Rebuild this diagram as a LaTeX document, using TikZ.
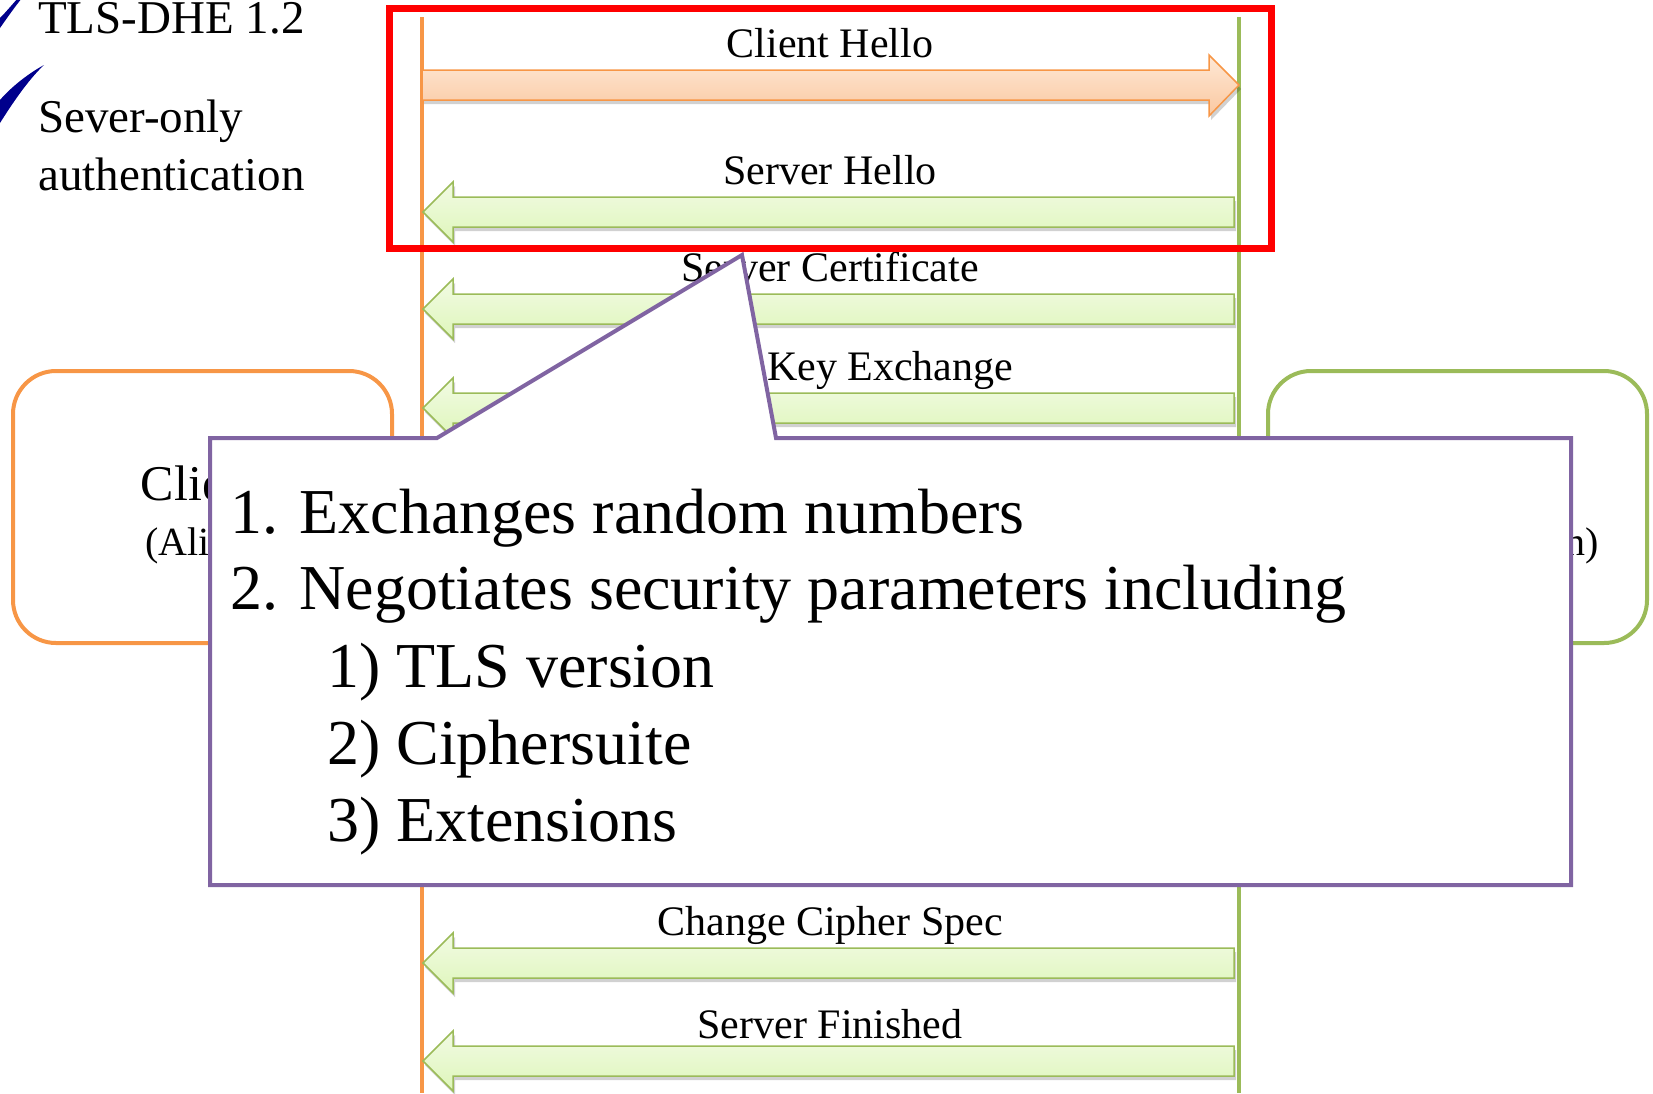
\documentclass[tikz,border=0pt]{standalone}
\usepackage{fontspec}
\setmainfont{Liberation Serif}
\usetikzlibrary{shadows}
\definecolor{cliorange}{HTML}{F79646}
\definecolor{srvgreen}{HTML}{9BBB59}
\definecolor{notepurple}{HTML}{8064A2}
\definecolor{tickblue}{RGB}{0,0,140}
\tikzset{
    lifeline/.style={line width=4pt},
    partybox/.style={draw, rounded corners=43pt, line width=4pt, minimum width=379pt, minimum height=272pt},
    msgshadow/.style={drop shadow={shadow xshift=2pt, shadow yshift=-4pt, opacity=0.18, fill=black}},
    msgright/.style={draw=cliorange, line width=1.5pt, msgshadow,
        top color={rgb,255:red,254;green,232;blue,214}, bottom color={rgb,255:red,250;green,200;blue,160}},
    msgleft/.style={draw=srvgreen, line width=1.5pt, msgshadow,
        top color={rgb,255:red,242;green,251;blue,228}, bottom color={rgb,255:red,222;green,246;blue,186}},
    msglabel/.style={anchor=base, inner sep=0pt, font=\fontsize{42}{48}\selectfont},
    notetext/.style={anchor=base west, inner sep=0pt, font=\fontsize{64}{77}\selectfont},
}
\begin{document}
\begin{tikzpicture}[x=1pt, y=-1pt]
    \useasboundingbox (0,0) rectangle (1653,1093);
    % lifelines
    \coordinate (clitop) at (422,17);
    \coordinate (clibot) at (422,1093);
    \coordinate (srvtop) at (1239,17);
    \coordinate (srvbot) at (1239,1093);
    \draw[lifeline, cliorange] (clitop) -- (clibot);
    \draw[lifeline, srvgreen] (srvtop) -- (srvbot);

    % parties
    \node[partybox, draw=cliorange] (client) at (202.5,507) {};
    \node[anchor=base, inner sep=0pt, font=\fontsize{50}{58}\selectfont] (clientname) at (202,500) {Client};
    \node[anchor=base, inner sep=0pt, font=\fontsize{40}{46}\selectfont] (clientwho) at (202,555) {(Alice)};
    \node[partybox, draw=srvgreen] (server) at (1457.5,507) {};
    \node[anchor=base, inner sep=0pt, font=\fontsize{50}{58}\selectfont] (servername) at (1457,500) {Server};
    \node[anchor=base, inner sep=0pt, font=\fontsize{40}{46}\selectfont] (serverwho) at (1474,555) {(Bob's domain)};

    % messages
    \draw[msgright] (422,70) -- (1209,70) -- (1209,55) -- (1239,85) -- (1209,116) -- (1209,100) -- (422,100) -- cycle;
    \node[msglabel] (climsg) at (830,57) {Client Hello};
    \foreach \y/\ly/\msg [count=\i] in {212/184/Server Hello, 309/281/Server Certificate, 408/380/Server Key Exchange,
                                        963/935/Change Cipher Spec, 1061/1038/Server Finished}{
        \draw[msgleft] (423,\y) -- (453,\y-30) -- (453,\y-15) -- (1234,\y-15) -- (1234,\y+15)
            -- (453,\y+15) -- (453,\y+30) -- cycle;
        \node[msglabel] (srvmsg\i) at (830,\ly) {\msg};
    }

    % hello phase
    \draw[red, line width=7pt] (389,8) rectangle (1271,248);

    % callout
    \draw[notepurple, line width=4pt, fill=white, line join=miter]
        (210,438) -- (437,438) -- (742,255) -- (776,438) -- (1571,438) -- (1571,885) -- (210,885) -- cycle;
    \node[notetext] (step1) at (230,533) {1. Exchanges random numbers};
    \node[notetext] (step2) at (230,609) {2. Negotiates security parameters including};
    \node[notetext] (step2a) at (327,687) {1) TLS version};
    \node[notetext] (step2b) at (327,764) {2) Ciphersuite};
    \node[notetext] (step2c) at (327,841) {3) Extensions};

    % notes, top left
    \fill[tickblue] (18,-2) .. controls (11,6) and (5,13) .. (0,18) -- (0,28) .. controls (7,18) and (14,8) .. (22,-2) -- cycle;
    \fill[tickblue] (44,65) .. controls (31,72) and (13,85) .. (0,100) -- (0,123)
        .. controls (12,104) and (28,80) .. (44,65) -- cycle;
    \node[anchor=base west, inner sep=0pt, font=\fontsize{47}{58}\selectfont] (dhe) at (38,33) {TLS-DHE 1.2};
    \node[anchor=base west, inner sep=0pt, font=\fontsize{47}{58}\selectfont] (auth1) at (38,132) {Sever-only};
    \node[anchor=base west, inner sep=0pt, font=\fontsize{47}{58}\selectfont] (auth2) at (38,190) {authentication};
\end{tikzpicture}
\end{document}
